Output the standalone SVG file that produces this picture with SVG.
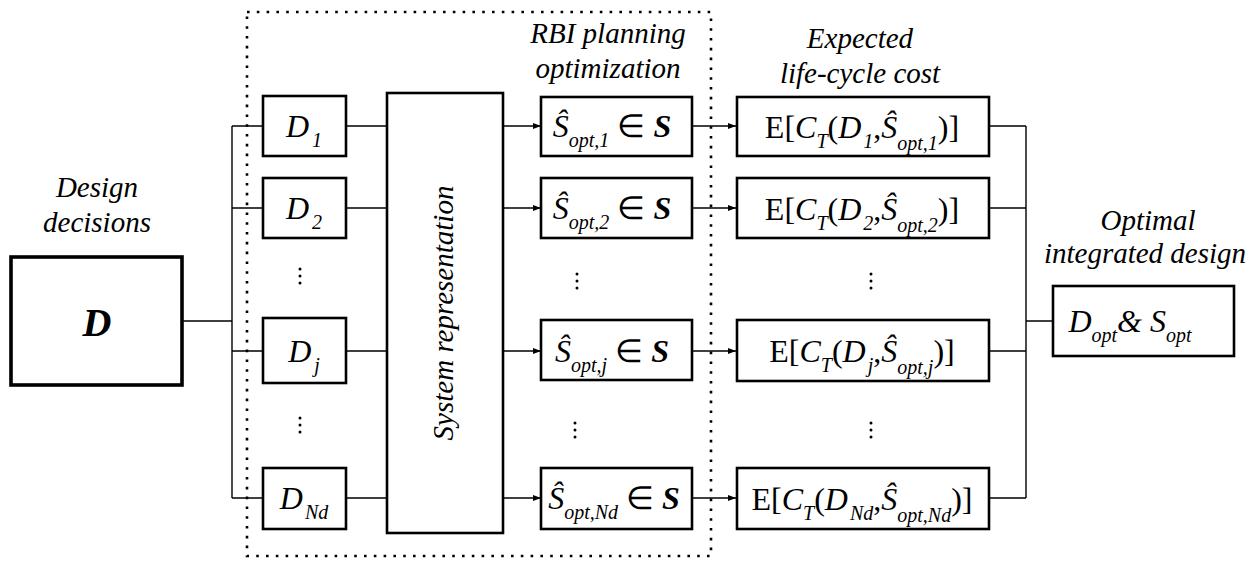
<svg xmlns="http://www.w3.org/2000/svg" width="1255" height="561" viewBox="0 0 1255 561">
<style>
.box{fill:#fff;stroke:#000;stroke-width:2.6}
.big{fill:#fff;stroke:#000;stroke-width:3.6}
.ln{fill:none;stroke:#000;stroke-width:1.4}
.lbl{font-family:"Liberation Serif","Times New Roman",serif;font-style:italic;font-size:29px;text-anchor:middle}
.m{font-family:"Liberation Serif","Times New Roman",serif;font-size:32px;text-anchor:middle}
.i{font-style:italic}
.b{font-style:italic;font-weight:bold}
.s{font-size:20px;font-style:italic}
.dot{fill:#000}
</style>
<defs>
<marker id="ah" viewBox="0 0 8 6" refX="8" refY="3" markerWidth="8" markerHeight="6" markerUnits="userSpaceOnUse" orient="auto">
<path d="M0,0 L8,3 L0,6 z" fill="#000"/>
</marker>
<g id="vd"><circle cx="0" cy="0" r="1.5"/><circle cx="0" cy="7" r="1.5"/><circle cx="0" cy="14" r="1.5"/></g>
</defs>
<rect width="1255" height="561" fill="#fff"/>

<!-- dotted frame -->
<rect x="247" y="12" width="464" height="544" fill="none" stroke="#000" stroke-width="2.6" stroke-dasharray="2.6 7.2"/>

<!-- labels -->
<g id="labels">
<text class="lbl" x="97" y="197">Design</text>
<text class="lbl" x="97" y="232">decisions</text>
<text class="lbl" x="608" y="43">RBI planning</text>
<text class="lbl" x="608" y="78">optimization</text>
<text class="lbl" x="860" y="48">Expected</text>
<text class="lbl" x="860" y="83">life-cycle cost</text>
<text class="lbl" x="1148" y="230">Optimal</text>
<text class="lbl" x="1145" y="263">integrated design</text>
</g>

<!-- connectors -->
<g id="connectors">
<path class="ln" d="M182,321 H232 M232,126 V498 M232,126 H263 M232,208 H263 M232,351 H263 M232,498 H263"/>
<path class="ln" d="M346,126 H387 M346,208 H387 M346,351 H387 M346,498 H387"/>
<path class="ln" marker-end="url(#ah)" d="M503,126 H541"/>
<path class="ln" marker-end="url(#ah)" d="M503,208 H541"/>
<path class="ln" marker-end="url(#ah)" d="M503,351 H541"/>
<path class="ln" marker-end="url(#ah)" d="M503,498 H541"/>
<path class="ln" marker-end="url(#ah)" d="M692,126 H736"/>
<path class="ln" marker-end="url(#ah)" d="M692,208 H736"/>
<path class="ln" marker-end="url(#ah)" d="M692,351 H736"/>
<path class="ln" marker-end="url(#ah)" d="M692,498 H736"/>
<path class="ln" d="M989,126 H1026 M989,208 H1026 M989,351 H1026 M989,498 H1026 M1026,126 V498 M1026,321 H1053"/>
</g>

<!-- big D -->
<g id="nodeD">
<rect class="big" x="11" y="257" width="171" height="128"/>
<text class="m" x="97" y="336" style="font-size:40px"><tspan class="b">D</tspan></text>
</g>

<!-- D column -->
<g id="D1"><rect class="box" x="263" y="96" width="83" height="60"/>
<text class="m" x="304" y="137"><tspan class="i">D</tspan><tspan class="s" dx="3" dy="10">1</tspan></text></g>
<g id="D2"><rect class="box" x="263" y="178" width="83" height="60"/>
<text class="m" x="304" y="219"><tspan class="i">D</tspan><tspan class="s" dx="3" dy="10">2</tspan></text></g>
<g id="Dj"><rect class="box" x="263" y="318" width="83" height="65"/>
<text class="m" x="304" y="362"><tspan class="i">D</tspan><tspan class="s" dx="3" dy="10">j</tspan></text></g>
<g id="DNd"><rect class="box" x="263" y="468" width="83" height="61"/>
<text class="m" x="304" y="509"><tspan class="i">D</tspan><tspan class="s" dx="2" dy="10">Nd</tspan></text></g>

<!-- system representation -->
<g id="sys"><rect class="box" x="387" y="93" width="116" height="440"/>
<text class="lbl" transform="translate(453,313) rotate(-90)" x="0" y="0">System representation</text></g>

<!-- S column -->
<g id="S1"><rect class="box" x="541" y="97" width="151" height="59"/>
<text class="m" x="612" y="137"><tspan class="i">Ŝ</tspan><tspan class="s" dy="10">opt,1</tspan><tspan dy="-10"> ∈ </tspan><tspan class="b">S</tspan></text></g>
<g id="S2"><rect class="box" x="541" y="178" width="151" height="60"/>
<text class="m" x="612" y="219"><tspan class="i">Ŝ</tspan><tspan class="s" dy="10">opt,2</tspan><tspan dy="-10"> ∈ </tspan><tspan class="b">S</tspan></text></g>
<g id="Sj"><rect class="box" x="541" y="320" width="151" height="60"/>
<text class="m" x="612" y="362"><tspan class="i">Ŝ</tspan><tspan class="s" dy="10">opt,j</tspan><tspan dy="-10"> ∈ </tspan><tspan class="b">S</tspan></text></g>
<g id="SNd"><rect class="box" x="541" y="468" width="151" height="61"/>
<text class="m" x="614" y="509"><tspan class="i">Ŝ</tspan><tspan class="s" dy="10">opt,Nd</tspan><tspan dy="-10"> ∈ </tspan><tspan class="b">S</tspan></text></g>

<!-- E column -->
<g id="E1"><rect class="box" x="737" y="97" width="252" height="59"/>
<text class="m" x="862" y="138">E[<tspan class="i">C</tspan><tspan class="s" dy="10">T</tspan><tspan dy="-10">(</tspan><tspan class="i">D</tspan><tspan class="s" dx="2" dy="10">1</tspan><tspan dy="-10">,</tspan><tspan class="i">Ŝ</tspan><tspan class="s" dy="12">opt,1</tspan><tspan dy="-12">)]</tspan></text></g>
<g id="E2"><rect class="box" x="737" y="178" width="252" height="60"/>
<text class="m" x="862" y="220">E[<tspan class="i">C</tspan><tspan class="s" dy="10">T</tspan><tspan dy="-10">(</tspan><tspan class="i">D</tspan><tspan class="s" dx="2" dy="10">2</tspan><tspan dy="-10">,</tspan><tspan class="i">Ŝ</tspan><tspan class="s" dy="12">opt,2</tspan><tspan dy="-12">)]</tspan></text></g>
<g id="Ej"><rect class="box" x="737" y="320" width="252" height="61"/>
<text class="m" x="862" y="362">E[<tspan class="i">C</tspan><tspan class="s" dy="10">T</tspan><tspan dy="-10">(</tspan><tspan class="i">D</tspan><tspan class="s" dx="2" dy="10">j</tspan><tspan dy="-10">,</tspan><tspan class="i">Ŝ</tspan><tspan class="s" dy="12">opt,j</tspan><tspan dy="-12">)]</tspan></text></g>
<g id="ENd"><rect class="box" x="737" y="468" width="252" height="61"/>
<text class="m" x="862" y="510">E[<tspan class="i">C</tspan><tspan class="s" dy="10">T</tspan><tspan dy="-10">(</tspan><tspan class="i">D</tspan><tspan class="s" dx="2" dy="10">Nd</tspan><tspan dy="-10">,</tspan><tspan class="i">Ŝ</tspan><tspan class="s" dy="12">opt,Nd</tspan><tspan dy="-12">)]</tspan></text></g>

<!-- result -->
<g id="result"><rect class="box" x="1053" y="286" width="181" height="70"/>
<text class="m" x="1130" y="332"><tspan class="i">D</tspan><tspan class="s" dy="10">opt</tspan><tspan class="i" dy="-10">&amp; S</tspan><tspan class="s" dy="10">opt</tspan></text></g>

<!-- vertical ellipses -->
<g id="ellipses" class="dot">
<use href="#vd" x="300" y="269"/>
<use href="#vd" x="300" y="418"/>
<use href="#vd" x="577" y="274"/>
<use href="#vd" x="575" y="423"/>
<use href="#vd" x="871" y="274"/>
<use href="#vd" x="871" y="423"/>
</g>
</svg>
